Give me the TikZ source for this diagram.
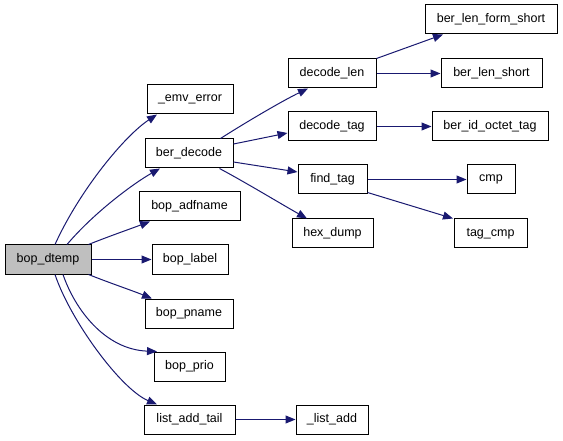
\documentclass[tikz,border=0pt]{standalone}
\usepackage{fontspec}
\setmainfont{Liberation Sans}
\usetikzlibrary{arrows.meta}
\definecolor{edgec}{RGB}{25,25,112}
\definecolor{rootfill}{RGB}{191,191,191}
\begin{document}
\begin{tikzpicture}[x=1pt,y=1pt,
 box/.style={draw=black, line width=1pt, fill=white, minimum height=29pt, inner sep=0pt, font=\fontsize{12.5}{14}\selectfont},
 edge/.style={draw=edgec, line width=1pt, -{Triangle[length=10pt,width=8pt]}}]
\useasboundingbox (0,0) rectangle (563,440);
% nodes
\node[box, minimum width=86pt, fill=rootfill] (dtemp) at (48,180.5) {bop\_dtemp};
\node[box, minimum width=86pt] (emv) at (190,340.5) {\_emv\_error};
\node[box, minimum width=88pt] (berdec) at (189,286.5) {ber\_decode};
\node[box, minimum width=101pt] (adf) at (189.5,233.5) {bop\_adfname};
\node[box, minimum width=76pt] (label) at (190,180.5) {bop\_label};
\node[box, minimum width=88pt] (pname) at (189,126.5) {bop\_pname};
\node[box, minimum width=71pt] (prio) at (189.5,73.5) {bop\_prio};
\node[box, minimum width=91pt] (lat) at (189.5,20.5) {list\_add\_tail};
\node[box, minimum width=88pt] (declen) at (332,366.5) {decode\_len};
\node[box, minimum width=88pt] (dectag) at (332,313.5) {decode\_tag};
\node[box, minimum width=69pt] (findtag) at (332.5,260.5) {find\_tag};
\node[box, minimum width=81pt] (hexdump) at (332.5,206.5) {hex\_dump};
\node[box, minimum width=72pt] (listadd) at (332,20.5) {\_list\_add};
\node[box, minimum width=132pt] (blfs) at (491,420.5) {ber\_len\_form\_short};
\node[box, minimum width=101pt] (bls) at (491.5,366.5) {ber\_len\_short};
\node[box, minimum width=116pt] (bidt) at (490,313.5) {ber\_id\_octet\_tag};
\node[box, minimum width=48pt] (cmp) at (491,260.5) {cmp};
\node[box, minimum width=73pt] (tagcmp) at (490.5,206.5) {tag\_cmp};
% edges
\draw[edge] ([xshift=7pt]dtemp.north) .. controls +(25,55) and +(-32,-21) .. ([xshift=-33pt]emv.south);
\draw[edge] ([xshift=19pt]dtemp.north) .. controls +(28,33) and +(-25,-14) .. ([xshift=-29pt]berdec.south);
\draw[edge] ([xshift=-3pt]dtemp.north east) .. controls +(20,8) and +(-20,-7.5) .. ([xshift=-39.5pt]adf.south);
\draw[edge] (dtemp.east) -- (label.west);
\draw[edge] ([xshift=-3pt]dtemp.south east) .. controls +(20,-8) and +(-20,8) .. ([xshift=-37pt]pname.north);
\draw[edge] ([xshift=15pt]dtemp.south) .. controls +(12,-35) and +(-52,2) .. ([xshift=-32.5pt]prio.north);
\draw[edge] ([xshift=7pt]dtemp.south) .. controls +(15,-45) and +(-37,16) .. ([xshift=-32.5pt]lat.north);
\draw[edge] (lat.east) -- (listadd.west);
\draw[edge] ([xshift=-13pt]berdec.north east) .. controls +(25,16) and +(-25,-12) .. ([xshift=-24pt]declen.south);
\draw[edge] ([yshift=9.5pt]berdec.east) -- ([yshift=-6.5pt]dectag.west);
\draw[edge] ([yshift=-8.5pt]berdec.east) -- ([yshift=7.5pt]findtag.west);
\draw[edge] ([xshift=-14pt]berdec.south east) .. controls +(28,-15) and +(-25,14) .. ([xshift=-25.5pt]hexdump.north);
\draw[edge] (declen.north east) -- ([xshift=-48pt]blfs.south);
\draw[edge] (declen.east) -- (bls.west);
\draw[edge] (dectag.east) -- (bidt.west);
\draw[edge] (findtag.east) -- (cmp.west);
\draw[edge] ([yshift=2pt]findtag.south east) -- ([xshift=-37.5pt]tagcmp.north);
\end{tikzpicture}
\end{document}
